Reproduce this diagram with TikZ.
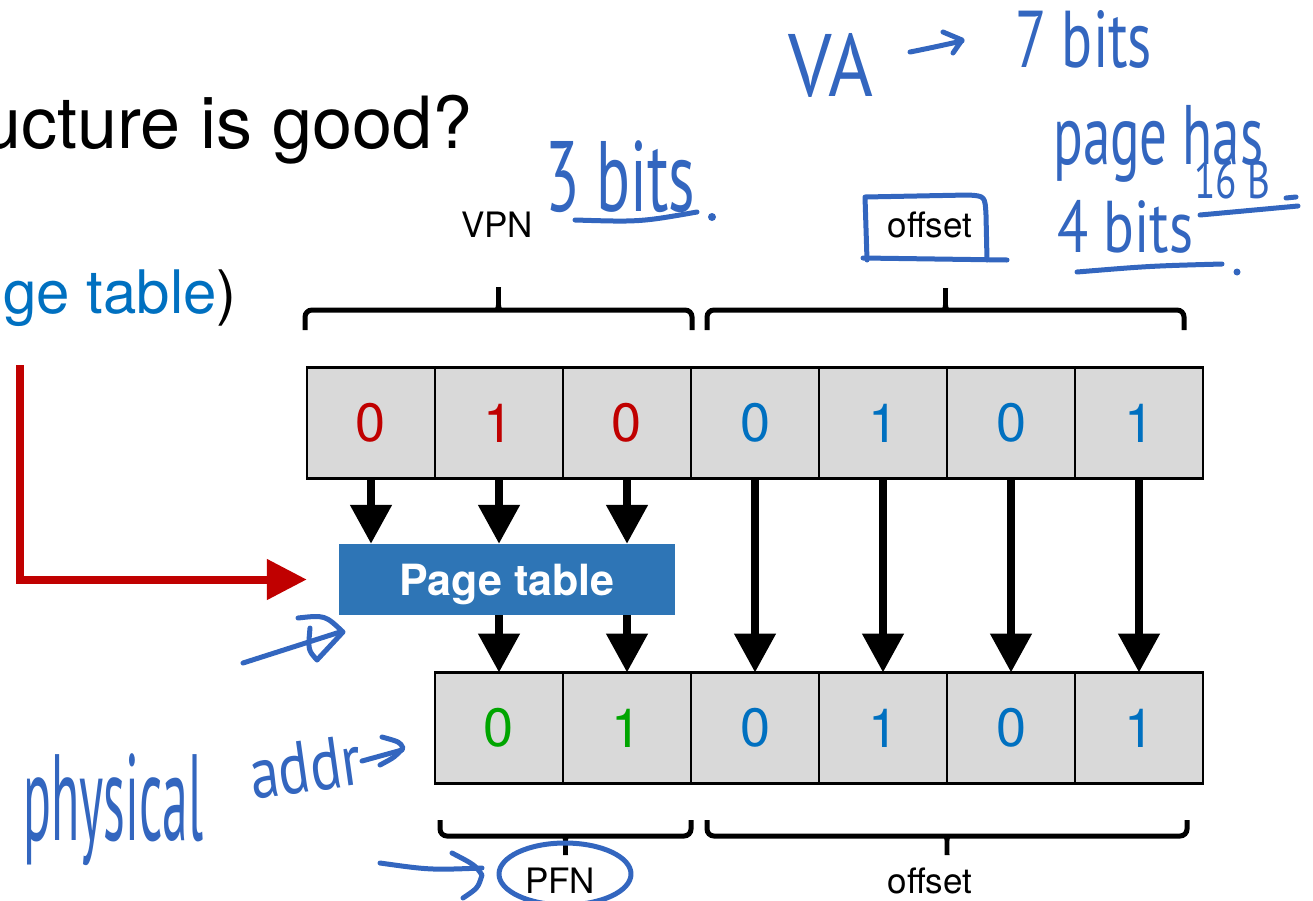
\documentclass[tikz,border=0pt]{standalone}
\usepackage{fontspec}
\setmainfont{TeX Gyre Heros}
\newfontfamily\hwfont{PT Sans}
\usetikzlibrary{arrows.meta}

\definecolor{cellgray}{HTML}{D9D9D9}
\definecolor{vpnred}{HTML}{C00000}
\definecolor{offblue}{HTML}{0070C0}
\definecolor{pfngreen}{HTML}{00A500}
\definecolor{ptblue}{HTML}{2E75B6}
\definecolor{inkblue}{HTML}{3366BF}

% handwritten note squeezed into a given width and total height
\newcommand\hwtext[3]{\resizebox*{#1pt}{#2pt}{\hwfont #3}}

% horizontal curly bracket: x-left, x-right, y of the ends, y of the bar, y of the tip
\newcommand\bitbrace[5]{%
  \draw[brace line] (#1,#3) -- (#1,#4) -- (#2,#4) -- (#2,#3);
  \fill ({(#1+#2)/2-8},#4) .. controls ({(#1+#2)/2-2},#4) .. ({(#1+#2)/2-2.5},#5)
        -- ({(#1+#2)/2+2.5},#5) .. controls ({(#1+#2)/2+2},#4) .. ({(#1+#2)/2+8},#4) -- cycle;
}

\begin{document}
\begin{tikzpicture}[x=1pt,y=-1pt,
  bitcell/.style={draw=black, line width=2.5pt, fill=cellgray,
    minimum width=128pt, minimum height=111pt, inner sep=0pt, outer sep=0pt,
    font=\fontsize{54}{60}\selectfont},
  vpnbit/.style={bitcell, text=vpnred},
  offbit/.style={bitcell, text=offblue},
  pfnbit/.style={bitcell, text=pfngreen},
  flow/.style={line width=8pt, -{Triangle[width=40pt,length=39pt]}},
  redflow/.style={draw=vpnred, line width=8pt, line join=miter,
    -{Triangle[width=39pt,length=40pt]}},
  brace line/.style={line width=5pt, rounded corners=7pt},
  fieldlabel/.style={anchor=base, inner sep=0pt, font=\fontsize{35}{40}\selectfont},
  note/.style={anchor=north west, inner sep=0pt, text=inkblue},
  ink/.style={draw=inkblue, line width=5pt, line cap=round, line join=round}
]
\useasboundingbox (0,0) rectangle (1313,900);

% slide text
\node[anchor=base east, inner sep=0pt, font=\fontsize{72}{80}\selectfont]
  (title) at (473,148) {ucture is good?};
\node[anchor=base east, inner sep=0pt, font=\fontsize{60}{66}\selectfont]
  (subtitle) at (237,313) {\textcolor{offblue}{ge table})};

% virtual address bits
\node[vpnbit] (c1) at (371,423) {0};
\node[vpnbit] (c2) at (499,423) {1};
\node[vpnbit] (c3) at (627,423) {0};
\node[offbit] (c4) at (755,423) {0};
\node[offbit] (c5) at (883,423) {1};
\node[offbit] (c6) at (1011,423) {0};
\node[offbit] (c7) at (1139,423) {1};

% physical address bits
\node[pfnbit] (p1) at (499,728) {0};
\node[pfnbit] (p2) at (627,728) {1};
\node[offbit] (p3) at (755,728) {0};
\node[offbit] (p4) at (883,728) {1};
\node[offbit] (p5) at (1011,728) {0};
\node[offbit] (p6) at (1139,728) {1};

% page table
\node[fill=ptblue, minimum width=336pt, minimum height=71pt, inner sep=0pt,
      text height=36pt, text depth=5pt, text=white,
      font=\bfseries\fontsize{43}{48}\selectfont] (pt) at (507,579.5) {Page table};

% translation arrows
\foreach \c in {c1,c2,c3} \draw[flow] (\c.south) -- (\c.south |- pt.north);
\foreach \p in {p1,p2} \draw[flow] (pt.south -| \p.north) -- (\p.north);
\draw[flow] (c4.south) -- (p3.north);
\draw[flow] (c5.south) -- (p4.north);
\draw[flow] (c6.south) -- (p5.north);
\draw[flow] (c7.south) -- (p6.north);

% red feed into the page table
\coordinate (redtop) at (20,365);
\draw[redflow] (redtop) |- ([xshift=-32pt]pt.west);

% field brackets and labels
\bitbrace{305}{692}{330}{310}{287}
\bitbrace{707}{1184}{330}{310}{288}
\bitbrace{440}{691}{820}{836}{855}
\bitbrace{707}{1187}{820}{836}{855}
\node[fieldlabel] (vpn) at (497,237) {VPN};
\node[fieldlabel] (offtop) at (930,237) {offset};
\node[fieldlabel] (pfn) at (560,893) {PFN};
\node[fieldlabel] (offbot) at (930,893) {offset};

% handwritten notes
\node[note] (va) at (788,33) {\hwtext{85}{64}{VA}};
\node[note] (sevenbits) at (1015,10) {\hwtext{137}{58}{7 bits}};
\node[note] (pagehas) at (1053,105) {\hwtext{210}{77}{page has}};
\node[note] (sixteenB) at (1194,161) {\hwtext{76}{38}{16 B}};
\node[note] (fourbits) at (1057,200) {\hwtext{136}{53}{4 bits}};
\node[note] (threebits) at (545,140) {\hwtext{150}{72}{3 bits}};
\node[note] (physical) at (23,753) {\hwtext{180}{112}{physical}};
\node[inner sep=0pt, text=inkblue, rotate=8] (addr) at (305,767) {\hwtext{112}{52}{addr}};

% VA arrow
\draw[ink] (910,52) .. controls (930,48) .. (962,41);
\draw[ink] (943,32) -- (962,40) -- (953,53);
% box round the offset label
\draw[ink] (867,260) -- (865,197) -- (968,195) .. controls (985,196) .. (986,215) -- (987,260);
\draw[ink] (863,258) -- (1007,260);
% underlines and full stops
\draw[ink] (1200,215) -- (1298,206);
\draw[ink] (1286,198) -- (1296,197);
\draw[ink] (1077,272) .. controls (1150,266) .. (1222,264);
\fill[inkblue] (1237,272) circle (3.5pt);
\draw[ink] (575,220) .. controls (640,222) .. (697,212);
\fill[inkblue] (712,217) circle (4pt);
% arrow after "addr"
\draw[ink] (362,761) -- (402,750);
\draw[ink] (382,737) .. controls (400,742) .. (403,748) .. controls (395,757) .. (380,765);
% pointer at the page table
\coordinate (pttail) at (243,663);
\coordinate (pthead) at (340,632);
\draw[ink] (pttail) -- (pthead);
\draw[ink] (298,618) .. controls (325,615) .. (343,632) -- (317,660) .. controls (308,650) .. (310,628);
% arrow towards PFN and the ring round it
\draw[ink] (380,863) .. controls (430,870) .. (482,868);
\draw[ink] (452,853) .. controls (475,865) .. (482,875) .. controls (478,888) .. (463,898);
\draw[ink] (565,874) ellipse [x radius=66pt, y radius=31pt];
\end{tikzpicture}
\end{document}
